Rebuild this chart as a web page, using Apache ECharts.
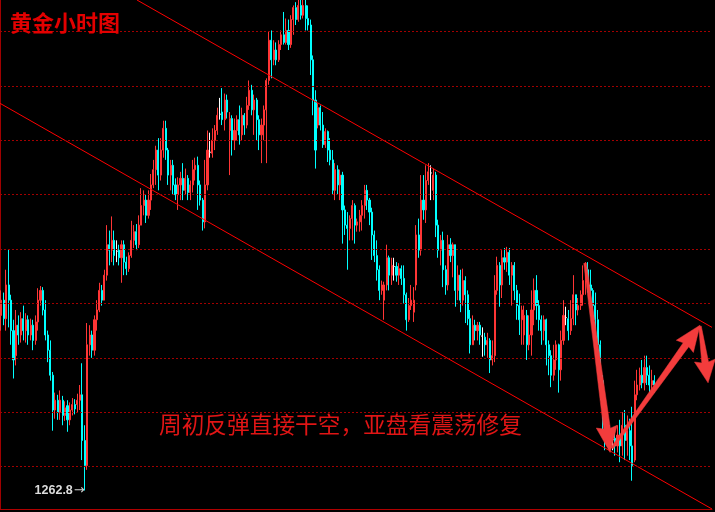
<!DOCTYPE html>
<html>
<head>
<meta charset="utf-8">
<script src="https://cdn.jsdelivr.net/npm/echarts@6/dist/echarts.min.js"></script>
<style>
html,body{margin:0;padding:0;background:#000;}
#c{width:715px;height:512px;}
</style>
</head>
<body>
<div id="c"></div>
<script>
// ---- data (hourly gold candles) ----
const opens = [
1278.9,1280.3,1278.6,1281.7,1280.3,1277.5,1275.2,1278.0,1277.1,1278.6,
1277.5,1278.5,1277.1,1278.0,1276.6,1278.3,1280.3,1281.2,1279.4,1277.1,
1275.7,1273.4,1270.2,1271.1,1270.0,1271.1,1269.7,1270.6,1269.3,1270.2,1270.7,1270.7,
1271.1,1271.6,1267.4,1265.1,1276.2,1277.1,1275.7,1278.5,1279.4,1281.2,
1280.3,1282.6,1285.4,1284.9,1285.8,1284.8,1284.9,1284.2,1285.4,1283.8,
1283.2,1284.4,1285.8,1286.6,1285.4,1287.2,1289.0,1289.5,1288.1,1289.5,
1290.9,1292.3,1294.1,1291.8,1294.1,1296.1,1294.1,1291.8,1292.7,1290.9,
1290.0,1290.9,1291.5,1290.4,1291.5,1290.2,1290.9,1292.3,1292.7,1290.9,
1289.5,1287.5,1290.9,1293.9,1293.8,1295.0,1295.9,1297.4,1297.6,1296.9,
1298.7,1295.9,1297.0,1295.0,1295.9,1296.9,1295.5,1297.3,1296.4,1298.2,
1299.6,1297.8,1298.7,1296.9,1295.5,1296.4,1297.8,1300.5,1304.2,1302.4,
1303.3,1302.4,1303.8,1304.7,1304.0,1305.1,1303.8,1306.1,1307.2,1306.1,
1307.4,1306.5,1307.4,1306.2,1305.6,1302.4,1298.7,1296.4,1298.0,1296.4,
1294.6,1295.8,1294.1,1293.2,1290.4,1292.3,1290.9,1291.8,1288.6,1287.2,
1286.9,1287.8,1289.0,1287.2,1287.5,1288.1,1289.0,1290.4,1289.5,1288.4,
1286.3,1284.4,1283.1,1281.2,1280.3,1281.7,1284.2,1282.6,1283.4,1283.4,
1282.6,1283.2,1282.3,1280.8,1278.5,1279.8,1279.2,1281.7,1286.3,1284.9,
1289.5,1288.6,1291.3,1292.0,1290.4,1291.8,1287.2,1284.9,1285.8,1283.1,
1281.7,1285.4,1284.4,1285.4,1281.2,1282.6,1280.3,1282.1,1280.8,1278.6,
1276.2,1278.0,1277.5,1278.0,1277.0,1276.9,1276.2,1276.6,1274.8,1275.2,
1281.2,1283.5,1281.7,1284.2,1283.8,1284.7,1282.6,1283.5,1281.2,1279.8,
1278.5,1277.1,1278.9,1276.2,1277.1,1279.4,1281.2,1279.8,1278.5,1277.5,
1278.5,1276.2,1275.2,1273.4,1274.8,1276.2,1273.9,1276.6,1278.7,1278.6,
1277.5,1278.6,1280.8,1279.4,1279.8,1280.8,1282.1,1283.1,1281.7,1281.2,
1279.8,1278.5,1276.2,1272.9,1269.3,1267.9,1268.3,1267.5,1267.6,1266.9,
1267.9,1266.9,1268.8,1267.4,1268.3,1266.9,1265.6,1271.6,1272.5,1273.4,
1272.7,1274.1,1273.4,1272.5,1272.9
];
const closes = [
1280.3,1278.6,1281.7,1280.3,1277.5,1274.8,1278.0,1277.1,1278.6,1277.5,
1278.5,1277.1,1278.0,1276.6,1278.3,1280.3,1281.2,1279.4,1277.1,1275.7,
1273.4,1270.2,1271.1,1270.0,1271.1,1269.7,1270.4,1269.3,1270.2,1270.7,1270.3,1271.1,
1271.6,1267.4,1265.1,1276.2,1277.1,1275.7,1278.5,1279.4,1281.2,1280.3,
1282.6,1285.4,1284.9,1285.8,1284.4,1284.8,1284.2,1285.4,1283.8,1283.2,
1284.4,1285.8,1286.6,1285.4,1287.2,1289.0,1289.5,1288.1,1289.5,1290.9,
1292.3,1294.1,1291.8,1294.1,1296.1,1294.1,1291.8,1292.7,1290.9,1290.0,
1290.9,1291.5,1290.4,1291.5,1290.2,1290.9,1292.3,1292.7,1290.9,1289.5,
1287.5,1290.9,1294.1,1293.9,1295.0,1295.9,1297.3,1297.4,1296.9,1298.7,
1297.6,1297.0,1295.0,1295.9,1296.9,1295.5,1297.3,1296.4,1298.2,1299.6,
1297.8,1298.7,1296.9,1295.5,1296.4,1297.8,1300.5,1304.2,1302.4,1303.3,
1302.4,1303.8,1304.7,1304.0,1305.1,1303.8,1306.1,1307.2,1306.1,1307.4,
1306.5,1307.4,1306.2,1305.6,1302.4,1298.7,1294.1,1298.0,1296.4,1294.6,
1295.8,1294.1,1293.2,1290.4,1292.3,1290.9,1291.8,1288.6,1287.2,1286.9,
1287.8,1289.0,1287.2,1287.5,1288.1,1289.0,1290.4,1289.5,1288.4,1286.3,
1284.4,1283.1,1281.2,1281.7,1281.7,1284.2,1282.6,1283.5,1283.4,1282.6,
1283.2,1282.3,1280.8,1278.5,1279.8,1280.3,1280.3,1286.3,1284.9,1289.5,
1288.6,1291.3,1292.1,1292.0,1291.8,1287.2,1284.9,1285.8,1283.1,1281.7,
1285.4,1284.4,1285.4,1281.2,1282.6,1280.3,1282.1,1280.8,1278.6,1276.2,
1278.0,1277.5,1278.0,1277.1,1277.0,1276.2,1276.6,1274.8,1275.2,1281.2,
1283.5,1281.7,1284.2,1283.8,1284.7,1282.6,1283.5,1281.2,1279.8,1278.5,
1279.4,1278.9,1276.2,1277.1,1279.4,1281.2,1279.8,1278.5,1277.5,1278.5,
1276.2,1275.2,1273.4,1274.8,1276.2,1273.9,1276.6,1278.9,1278.7,1277.5,
1278.6,1280.8,1279.4,1279.8,1280.8,1282.1,1283.1,1281.7,1281.2,1279.8,
1278.5,1276.2,1272.9,1269.3,1267.9,1268.3,1267.4,1267.5,1266.9,1267.9,
1266.9,1268.8,1267.4,1268.3,1266.9,1265.1,1271.6,1272.5,1273.4,1272.7,
1274.1,1273.4,1272.5,1272.9,1272.5
];
const lows = [
1277.5,1278.0,1277.5,1277.8,1276.2,1273.1,1274.3,1276.2,1276.4,1276.6,
1276.4,1276.2,1276.6,1275.7,1276.2,1277.5,1279.8,1278.9,1276.6,1274.6,
1272.9,1268.3,1269.4,1269.3,1269.3,1268.8,1269.2,1268.2,1268.8,1269.7,1269.8,1270.0,
1270.2,1265.6,1262.8,1264.7,1275.2,1275.0,1275.2,1277.5,1279.2,1279.8,
1280.3,1282.1,1283.5,1283.8,1283.5,1283.8,1283.5,1281.9,1282.6,1282.6,
1282.9,1284.2,1285.1,1284.9,1285.1,1287.2,1288.1,1287.4,1287.8,1288.6,
1290.6,1290.9,1290.4,1291.3,1293.4,1293.2,1290.9,1290.4,1290.0,1289.5,
1288.6,1289.5,1289.5,1290.0,1289.5,1289.5,1290.2,1291.3,1288.6,1289.0,
1286.7,1286.9,1290.4,1293.4,1293.4,1294.1,1295.5,1296.9,1296.4,1295.9,
1297.0,1291.8,1293.6,1294.1,1295.0,1294.6,1295.0,1295.5,1296.1,1297.8,
1297.3,1295.5,1295.0,1294.1,1292.9,1295.0,1292.9,1300.1,1300.7,1301.9,
1301.9,1302.2,1303.3,1303.8,1303.8,1303.3,1303.5,1304.7,1305.6,1305.9,
1306.1,1306.2,1305.1,1305.1,1301.0,1297.3,1292.4,1296.1,1295.9,1294.3,
1294.3,1293.0,1292.7,1290.0,1289.5,1290.0,1289.5,1285.5,1286.3,1283.1,
1285.8,1285.8,1285.5,1286.6,1286.6,1286.7,1287.8,1288.6,1287.2,1284.0,
1283.8,1282.1,1280.3,1280.8,1278.5,1281.2,1281.2,1281.7,1282.1,1282.0,
1281.7,1281.7,1280.0,1277.5,1278.3,1279.4,1278.3,1281.2,1284.2,1284.4,
1287.7,1287.4,1290.9,1289.5,1289.5,1286.1,1284.2,1283.5,1281.5,1280.8,
1281.2,1283.8,1282.4,1279.7,1280.3,1279.2,1279.8,1278.2,1278.0,1275.4,
1276.2,1276.6,1276.6,1276.2,1275.1,1275.2,1275.0,1273.6,1274.3,1274.6,
1280.8,1279.7,1280.5,1283.1,1282.9,1281.7,1279.8,1280.3,1278.5,1277.1,
1276.2,1276.2,1274.8,1275.7,1275.2,1278.0,1278.5,1277.5,1276.2,1276.6,
1274.3,1273.4,1272.3,1272.9,1273.9,1271.8,1272.9,1276.2,1278.0,1276.6,
1277.1,1278.0,1278.0,1278.9,1279.4,1279.8,1280.8,1281.0,1280.3,1278.0,
1277.5,1274.8,1271.1,1267.9,1266.5,1266.9,1266.7,1266.5,1266.0,1266.3,
1265.4,1266.0,1265.6,1266.0,1265.6,1263.7,1265.4,1271.1,1272.0,1272.2,
1272.0,1272.5,1271.8,1271.6,1271.8
];
const highs = [
1281.2,1281.0,1283.1,1285.0,1280.8,1278.5,1279.4,1278.9,1279.2,1279.8,
1279.1,1278.9,1278.6,1278.5,1278.9,1281.4,1281.6,1281.5,1280.3,1277.5,
1276.6,1273.7,1271.8,1271.6,1272.0,1271.5,1271.0,1271.1,1270.9,1271.3,1271.2,1271.7,
1272.5,1274.5,1268.8,1278.2,1278.0,1277.5,1278.9,1280.3,1281.9,1281.7,
1283.1,1287.2,1286.7,1288.0,1286.7,1285.8,1285.4,1285.8,1285.8,1284.3,
1284.7,1287.6,1287.2,1287.3,1288.1,1290.6,1290.4,1290.0,1290.4,1291.9,
1293.2,1294.5,1295.2,1295.2,1296.8,1296.8,1294.3,1293.2,1293.2,1291.5,
1291.6,1292.1,1292.9,1292.4,1291.8,1291.3,1293.2,1293.4,1293.5,1291.3,
1289.7,1293.2,1295.9,1295.7,1296.1,1296.4,1298.0,1298.9,1299.8,1299.3,
1299.2,1297.6,1297.3,1297.0,1297.3,1298.2,1298.0,1297.5,1299.0,1300.5,
1300.1,1299.2,1298.9,1297.3,1297.0,1298.2,1300.7,1305.0,1305.1,1304.2,
1304.0,1304.2,1305.1,1306.8,1306.2,1306.1,1306.5,1307.4,1307.7,1307.9,
1307.9,1307.9,1307.9,1307.4,1306.1,1302.8,1299.6,1298.4,1298.2,1297.6,
1296.1,1295.9,1295.2,1294.1,1292.9,1292.7,1292.3,1292.1,1289.0,1288.4,
1288.1,1289.5,1289.2,1287.8,1288.6,1289.5,1290.9,1290.9,1289.7,1288.8,
1286.7,1285.8,1283.5,1282.1,1282.0,1285.4,1284.4,1284.2,1284.2,1283.8,
1283.7,1283.5,1283.5,1281.0,1280.5,1281.7,1281.5,1287.2,1287.8,1291.8,
1291.8,1292.7,1292.9,1292.7,1292.4,1292.1,1287.7,1286.3,1286.6,1283.5,
1286.3,1286.0,1285.6,1285.4,1283.5,1283.1,1283.2,1282.5,1281.2,1279.4,
1278.9,1278.5,1278.3,1278.3,1277.8,1277.3,1277.3,1276.8,1276.6,1282.6,
1284.3,1283.8,1284.9,1285.1,1285.2,1285.1,1283.8,1283.8,1281.7,1280.9,
1279.8,1279.8,1279.4,1278.9,1281.2,1282.3,1282.6,1280.3,1278.9,1278.9,
1278.6,1276.6,1275.7,1276.2,1276.6,1276.3,1277.5,1280.3,1279.7,1279.4,
1280.3,1282.6,1280.8,1280.5,1281.2,1283.5,1283.8,1283.8,1283.1,1281.4,
1281.0,1279.4,1276.6,1273.4,1269.7,1269.3,1268.8,1268.3,1268.3,1268.8,
1269.3,1270.0,1270.2,1269.7,1269.4,1270.5,1272.9,1273.9,1274.1,1274.8,
1275.2,1275.2,1274.3,1273.9,1273.4
];
const slotCount = 290;                 // hourly slots on the axis (incl. empty space on the right)
const gridLevels = [1265, 1270, 1275, 1280, 1285, 1290, 1295, 1300, 1305];
const lowLabel = { index: 34, value: 1262.8, text: '1262.8' };
// channel lines and arrows in (slot, price) units
const trendUpper = [[55.8, 1307.9], [290, 1277.8]];
const trendLower = [[0, 1298.4], [290, 1261.1]];
const arrows = [
  [[238.3, 1283.7], [248.5, 1266.3]],
  [[249.3, 1266.7], [285.1, 1278.0]],
  [[285.1, 1277.9], [288.4, 1272.7]]
];
const titleText = '黄金小时图';
const noteText = '周初反弹直接干空，亚盘看震荡修复';

// ---- build ----
const categories = [];
for (let i = 0; i < slotCount; i++) categories.push(String(i));
const candles = opens.map((o, i) => [o, closes[i], lows[i], highs[i]]);

const chart = echarts.init(document.getElementById('c'));
chart.setOption({
  backgroundColor: '#000000',
  animation: false,
  title: {
    text: titleText, left: 10, top: 12, padding: 0,
    textStyle: { color: '#e30000', fontSize: 22, fontWeight: 'bold', fontFamily: 'Noto Sans CJK SC' }
  },
  graphic: [{
    id: 'note', type: 'text', left: 159, top: 413, silent: true,
    style: { text: noteText, fill: '#e01515', font: '22.7px "Noto Sans CJK SC"' }
  }],
  grid: { left: 0, right: 3, top: 0, bottom: 3, containLabel: false },
  xAxis: [{
    type: 'category', data: categories, boundaryGap: true,
    axisLine: { show: true, lineStyle: { color: '#b00000', width: 1 } },
    axisTick: { show: false }, axisLabel: { show: false }, splitLine: { show: false }
  }, {
    type: 'value', min: 0, max: slotCount, show: false
  }],
  yAxis: [{
    type: 'value', min: 1261.1, max: 1307.9, position: 'right',
    axisLine: { show: true, lineStyle: { color: '#a00000', width: 1 } },
    axisTick: { show: false }, axisLabel: { show: false }, splitLine: { show: false }
  }],
  series: [{
    type: 'line', data: [], z: 1, silent: true,
    markLine: {
      silent: true, symbol: 'none', animation: false,
      label: { show: false },
      lineStyle: { color: '#a30000', type: [2, 2], width: 1 },
      data: gridLevels.map(v => ({ yAxis: v }))
    }
  }, {
    type: 'candlestick', data: candles, barWidth: 1.6, z: 3,
    itemStyle: {
      color: '#ff3535', color0: '#00ffff',
      borderColor: '#ff3535', borderColor0: '#00ffff',
      borderColorDoji: '#ffffff', borderWidth: 1
    },
    markPoint: {
      symbol: 'circle', symbolSize: 0, silent: true,
      label: {
        show: true, position: 'left', distance: 0,
        formatter: '{n|' + lowLabel.text + '}{a|→}',
        rich: {
          n: { color: '#dcdcdc', fontSize: 12.5, fontWeight: 'bold', fontFamily: 'Liberation Sans' },
          a: { color: '#cfcfcf', fontSize: 13, fontFamily: 'DejaVu Sans', padding: [0, 0, 0, 1] }
        }
      },
      data: [{ coord: [lowLabel.index, lowLabel.value] }]
    }
  }, {
    type: 'line', xAxisIndex: 1, data: trendUpper, showSymbol: false, silent: true, z: 4,
    lineStyle: { color: '#ff0000', width: 1 }
  }, {
    type: 'line', xAxisIndex: 1, data: trendLower, showSymbol: false, silent: true, z: 4,
    lineStyle: { color: '#ff0000', width: 1 }
  }]
});

// arrows: tapered shaft + head, positioned through the chart's own scales
function arrowPoints(a) {
  const s = chart.convertToPixel({ seriesIndex: 2 }, a[0]);
  const t = chart.convertToPixel({ seriesIndex: 2 }, a[1]);
  const dx = t[0] - s[0], dy = t[1] - s[1];
  const len = Math.sqrt(dx * dx + dy * dy);
  const ux = dx / len, uy = dy / len, nx = -uy, ny = ux;
  const hl = Math.min(24, len * 0.36), hw = 10.5, ws = 1.3, we = 3.4;
  const bx = t[0] - ux * hl, by = t[1] - uy * hl;
  return [
    [s[0] + nx * ws, s[1] + ny * ws],
    [bx + nx * we, by + ny * we],
    [bx + nx * hw - ux * 2, by + ny * hw - uy * 2],
    [t[0], t[1]],
    [bx - nx * hw - ux * 2, by - ny * hw - uy * 2],
    [bx - nx * we, by - ny * we],
    [s[0] - nx * ws, s[1] - ny * ws]
  ];
}
chart.setOption({
  graphic: arrows.map((a, i) => ({
    id: 'arrow' + i, type: 'polygon', silent: true, z: 10,
    shape: { points: arrowPoints(a) },
    style: { fill: '#f33c3c', stroke: '#f33c3c', lineWidth: 0.5 }
  }))
});
</script>
</body>
</html>
